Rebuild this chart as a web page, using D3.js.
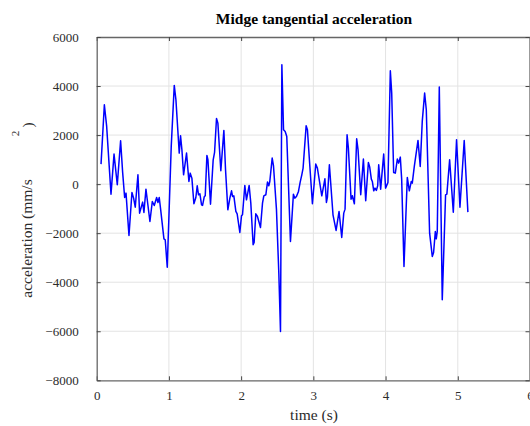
<!DOCTYPE html>
<html>
<head>
<meta charset="utf-8">
<script src="https://cdn.jsdelivr.net/npm/d3@7/dist/d3.min.js"></script>
<style>
  html, body { margin: 0; padding: 0; background: #fff; }
  svg { display: block; }
  text { font-family: "Liberation Serif", "Times New Roman", serif; }
</style>
</head>
<body>
<svg id="chart" width="530" height="426"></svg>
<script>
// Midge tangential acceleration over time (s, mm/s^2)
const time = [
  0.06, 0.106, 0.138, 0.198, 0.24, 0.285, 0.331, 0.359, 0.387, 0.406,
  0.447, 0.488, 0.511, 0.534, 0.571, 0.594, 0.636, 0.654, 0.682, 0.737,
  0.77, 0.797, 0.83, 0.848, 0.866, 0.885, 0.931, 0.949, 0.977, 1.032,
  1.074, 1.097, 1.143, 1.161, 1.18, 1.203, 1.244, 1.277, 1.295, 1.318,
  1.346, 1.373, 1.392, 1.41, 1.429, 1.452, 1.466, 1.489, 1.503, 1.526,
  1.54, 1.576, 1.613, 1.632, 1.659, 1.678, 1.719, 1.761, 1.784, 1.816,
  1.844, 1.867, 1.881, 1.899, 1.927, 1.945, 1.982, 2.005, 2.019, 2.051,
  2.074, 2.111, 2.134, 2.166, 2.18, 2.203, 2.226, 2.249, 2.268, 2.296,
  2.314, 2.342, 2.365, 2.383, 2.397, 2.43, 2.448, 2.489, 2.522, 2.545,
  2.564, 2.587, 2.61, 2.632, 2.683, 2.724, 2.743, 2.766, 2.794, 2.817,
  2.84, 2.858, 2.9, 2.918, 2.951, 2.987, 3.01, 3.033, 3.056, 3.117,
  3.16, 3.181, 3.195, 3.222, 3.272, 3.315, 3.356, 3.393, 3.421, 3.439,
  3.467, 3.485, 3.522, 3.54, 3.568, 3.6, 3.619, 3.656, 3.693, 3.725,
  3.762, 3.78, 3.803, 3.817, 3.836, 3.854, 3.872, 3.891, 3.905, 3.932,
  3.974, 4.0, 4.033, 4.066, 4.085, 4.112, 4.135, 4.163, 4.181, 4.204,
  4.223, 4.255, 4.301, 4.329, 4.356, 4.37, 4.398, 4.449, 4.48, 4.508,
  4.541, 4.564, 4.61, 4.647, 4.665, 4.689, 4.702, 4.716, 4.744, 4.785,
  4.831, 4.849, 4.887, 4.938, 4.983, 5.03, 5.089, 5.14
];
const acceleration = [
  816, 3237, 2353, -408, 1224, -27, 1768, 490, -544, -367,
  -2094, -340, -571, -938, 381, -1183, -734, -1156, -204, -1523,
  -707, -870, -544, -748, -544, -1020, -2230, -2271, -3386, 1537,
  4026, 3441, 1265, 1972, 1401, 381, 1265, 109, 449, 245,
  -802, -544, -68, -435, -394, -843, -870, -517, -476, 1170,
  993, -816, 993, 1292, 2679, 2489, 544, 2190, 585, -1047,
  -571, -272, -503, -476, -1115, -1210, -1972, -1292, -1251, -54,
  -639, -54, -775, -2475, -2380, -1210, -1319, -1564, -1768, -775,
  -476, -435, 82, -68, 109, 1061, 748, -1020, -3631, -6011,
  4869, 2217, 2149, 1945, -2339, -408, -571, -503, -299, 68,
  381, 653, 2380, 2217, 748, -802, -27, 816, 653, -476,
  218, -748, -530, 789, -1251, -1890, -1115, -2176, -1183, -1020,
  2013, 1469, -612, -476, -802, 1850, 1401, -435, 1020, -680,
  884, 700, 204, 109, -272, -163, -258, -68, 789, -204,
  1224, -163, 68, 4624, 3713, 476, 449, 1020, 857, 1102,
  204, -3359, 272, -272, 109, 41, 721, 1782, 721, 2557,
  3713, 3033, -1999, -2951, -2788, -1931, -2230, -1931, 3958, -4719,
  -435, -408, 993, -1142, 1809, -938, 1782, -1142
];
const xTicks = [0, 1, 2, 3, 4, 5, 6];
const yTicks = [-8000, -6000, -4000, -2000, 0, 2000, 4000, 6000];

const titleText = "Midge tangential acceleration";
const xLabelText = "time (s)";
const yLabelText = "acceleration (mm/s";

const serif = '"Liberation Serif", "Times New Roman", serif';
const svg = d3.select("#chart");
const plot = { left: 96.7, right: 530, top: 37, bottom: 380.3 };

const x = d3.scaleLinear().domain([0, 6]).range([plot.left, plot.right]);
const y = d3.scaleLinear().domain([-8000, 6000]).range([plot.bottom, plot.top]);

// grid
const grid = svg.append("g").attr("stroke", "#e3e3e3").attr("stroke-width", 1);
grid.selectAll("line.gx").data(xTicks.slice(1, -1)).join("line")
  .attr("x1", d => x(d)).attr("x2", d => x(d))
  .attr("y1", plot.top).attr("y2", plot.bottom);
grid.selectAll("line.gy").data(yTicks.slice(1, -1)).join("line")
  .attr("y1", d => y(d)).attr("y2", d => y(d))
  .attr("x1", plot.left).attr("x2", plot.right);

// data line
const pts = time.map((t, i) => [t, acceleration[i]]);
svg.append("path")
  .datum(pts)
  .attr("fill", "none")
  .attr("stroke", "#0000ff")
  .attr("stroke-width", 1.5)
  .attr("stroke-linejoin", "round")
  .attr("d", d3.line().x(d => x(d[0])).y(d => y(d[1])));

// frame and inward ticks
const axisColor = "#666";
const tickLen = 4;
const xb = d3.axisBottom(x).tickValues(xTicks).tickSizeInner(-tickLen).tickSizeOuter(0).tickFormat(d3.format("d")).tickPadding(10);
const xt = d3.axisTop(x).tickValues(xTicks).tickSizeInner(-tickLen).tickSizeOuter(0).tickFormat("");
const yl = d3.axisLeft(y).tickValues(yTicks).tickSizeInner(-tickLen).tickSizeOuter(0).tickFormat(d3.format("d")).tickPadding(18);
const yr = d3.axisRight(y).tickValues(yTicks).tickSizeInner(-tickLen).tickSizeOuter(0).tickFormat("");

function styleAxis(g) {
  g.attr("font-family", serif).attr("font-size", 13);
  g.select(".domain").attr("stroke", axisColor).attr("stroke-width", 1.3);
  g.selectAll(".tick line").attr("stroke", "#444").attr("stroke-width", 1);
  g.selectAll(".tick text")
    .attr("fill", "#2b2b2b")
    .attr("font-family", serif)
    .attr("font-size", 13);
}

svg.append("g").attr("transform", `translate(0,${plot.bottom})`).call(xb).call(styleAxis);
svg.append("g").attr("transform", `translate(0,${plot.top})`).call(xt).call(styleAxis);
svg.append("g").attr("transform", `translate(${plot.left},0)`).call(yl).call(styleAxis);
svg.append("g").attr("transform", `translate(${plot.right - 0.5},0)`).call(yr).call(styleAxis);

// title and axis labels
svg.append("text")
  .attr("x", 314).attr("y", 24)
  .attr("text-anchor", "middle")
  .attr("font-weight", "bold")
  .attr("font-size", "15.5px")
  .attr("fill", "#000")
  .text(titleText);

svg.append("text")
  .attr("x", 314).attr("y", 420)
  .attr("text-anchor", "middle")
  .attr("font-size", "15.5px")
  .attr("fill", "#2b2b2b")
  .text(xLabelText);

svg.append("text")
  .attr("transform", "translate(31.5,238.5) rotate(-90)")
  .attr("text-anchor", "middle")
  .attr("font-size", "15.5px")
  .attr("fill", "#2b2b2b")
  .text(yLabelText);

svg.append("text")
  .attr("transform", "translate(18.5,133.5) rotate(-90)")
  .attr("text-anchor", "middle")
  .attr("font-size", "11px")
  .attr("fill", "#2b2b2b")
  .text("2");

svg.append("text")
  .attr("transform", "translate(32.5,125) rotate(-90)")
  .attr("text-anchor", "middle")
  .attr("font-size", "15.5px")
  .attr("fill", "#2b2b2b")
  .text(")");
</script>
</body>
</html>
